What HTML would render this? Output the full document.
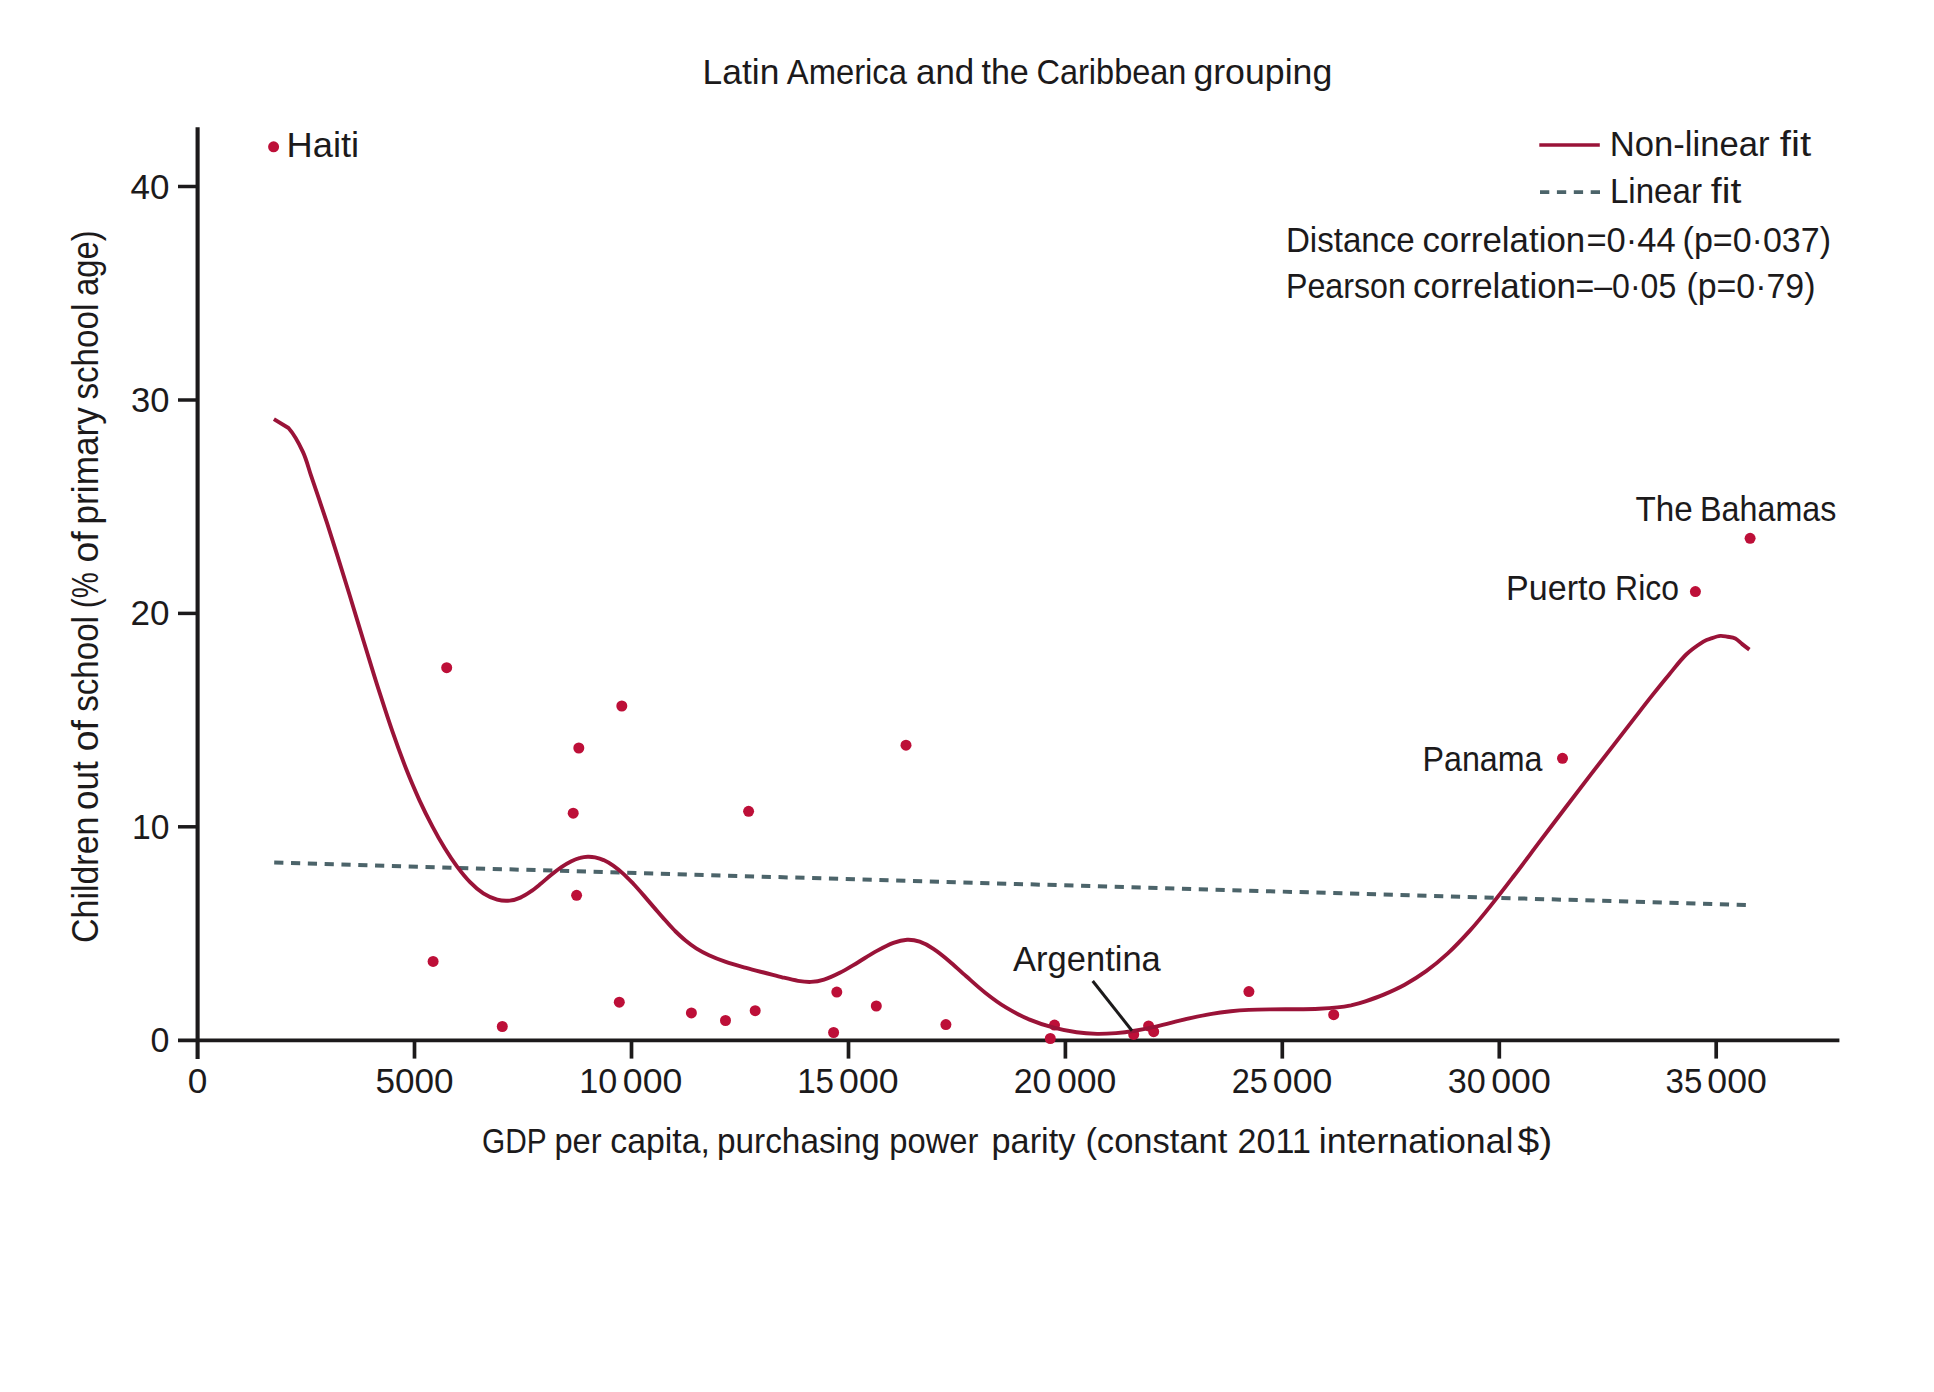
<!DOCTYPE html>
<html lang="en"><head><meta charset="utf-8">
<title>Latin America and the Caribbean grouping</title>
<style>
html,body{margin:0;padding:0;background:#fff;}
body{width:1934px;height:1392px;overflow:hidden;}
svg{display:block;}
text{font-family:"Liberation Sans", sans-serif;fill:#1c1a1b;}
</style></head><body>
<svg width="1934" height="1392" viewBox="0 0 1934 1392">
<rect x="0" y="0" width="1934" height="1392" fill="#ffffff"/>
<g stroke="#1c1a1b" fill="none" stroke-linecap="butt">
<line x1="197.6" y1="127.2" x2="197.6" y2="1059" stroke-width="4.1"/>
<line x1="178" y1="1040.3" x2="1839.4" y2="1040.3" stroke-width="3.8"/>
<line x1="178" y1="826.8" x2="197.6" y2="826.8" stroke-width="3.5"/>
<line x1="178" y1="613.4" x2="197.6" y2="613.4" stroke-width="3.5"/>
<line x1="178" y1="400.0" x2="197.6" y2="400.0" stroke-width="3.5"/>
<line x1="178" y1="186.5" x2="197.6" y2="186.5" stroke-width="3.5"/>
<line x1="414.5" y1="1040.3" x2="414.5" y2="1058.6" stroke-width="3.7"/>
<line x1="631.5" y1="1040.3" x2="631.5" y2="1058.6" stroke-width="3.7"/>
<line x1="848.5" y1="1040.3" x2="848.5" y2="1058.6" stroke-width="3.7"/>
<line x1="1065.4" y1="1040.3" x2="1065.4" y2="1058.6" stroke-width="3.7"/>
<line x1="1282.3" y1="1040.3" x2="1282.3" y2="1058.6" stroke-width="3.7"/>
<line x1="1499.3" y1="1040.3" x2="1499.3" y2="1058.6" stroke-width="3.7"/>
<line x1="1716.2" y1="1040.3" x2="1716.2" y2="1058.6" stroke-width="3.7"/>
</g>
<line x1="274.2" y1="862.6" x2="1747.6" y2="905" stroke="#4c646a" stroke-width="4" stroke-dasharray="9.2 7.617" fill="none"/>
<g fill="#bd0f38">
<circle cx="273.6" cy="146.8" r="5.5"/>
<circle cx="446.7" cy="667.7" r="5.5"/>
<circle cx="621.8" cy="706.0" r="5.5"/>
<circle cx="578.8" cy="748.0" r="5.5"/>
<circle cx="906.0" cy="745.2" r="5.5"/>
<circle cx="573.2" cy="813.2" r="5.5"/>
<circle cx="748.6" cy="811.3" r="5.5"/>
<circle cx="576.6" cy="895.3" r="5.5"/>
<circle cx="433.1" cy="961.4" r="5.5"/>
<circle cx="619.3" cy="1002.2" r="5.5"/>
<circle cx="502.3" cy="1026.5" r="5.5"/>
<circle cx="691.4" cy="1012.9" r="5.5"/>
<circle cx="725.5" cy="1020.5" r="5.5"/>
<circle cx="755.2" cy="1010.7" r="5.5"/>
<circle cx="836.8" cy="992.1" r="5.5"/>
<circle cx="833.6" cy="1032.5" r="5.5"/>
<circle cx="876.3" cy="1006.0" r="5.5"/>
<circle cx="945.9" cy="1024.6" r="5.5"/>
<circle cx="1054.5" cy="1025.1" r="5.5"/>
<circle cx="1050.3" cy="1038.5" r="5.5"/>
<circle cx="1133.7" cy="1034.4" r="5.5"/>
<circle cx="1148.6" cy="1025.9" r="5.5"/>
<circle cx="1153.7" cy="1031.7" r="5.5"/>
<circle cx="1248.9" cy="991.6" r="5.5"/>
<circle cx="1333.7" cy="1014.7" r="5.5"/>
<circle cx="1562.5" cy="758.3" r="5.5"/>
<circle cx="1695.4" cy="591.6" r="5.5"/>
<circle cx="1750.1" cy="538.3" r="5.5"/>
</g>
<path d="M273.9 419.2 L288.5 428.0 C293.3 433.4 299.2 443.9 302.9 451.8 C306.6 459.7 308.3 467.4 310.9 475.2 C313.6 483.0 316.2 490.6 318.9 498.6 C321.5 506.5 324.0 513.8 327.0 522.9 C329.9 531.9 332.9 541.3 336.6 553.1 C340.4 565.0 344.7 579.2 349.3 594.0 C353.8 608.7 358.9 625.9 363.8 641.7 C368.7 657.5 373.6 673.9 378.4 688.9 C383.2 703.8 387.8 718.3 392.5 731.7 C397.1 745.0 401.7 757.5 406.2 769.0 C410.7 780.5 415.3 791.0 419.6 800.6 C424.0 810.2 428.3 818.7 432.5 826.6 C436.7 834.6 440.7 841.6 444.8 848.3 C448.9 855.0 453.0 861.1 457.1 866.7 C461.3 872.3 465.4 877.5 469.8 881.9 C474.1 886.4 478.7 890.3 483.3 893.3 C487.9 896.2 492.8 898.4 497.2 899.6 C501.6 900.8 505.8 901.0 509.7 900.6 C513.6 900.3 517.0 899.1 520.4 897.6 C523.9 896.1 527.1 894.0 530.5 891.7 C533.8 889.4 537.2 886.6 540.7 883.8 C544.1 881.0 547.6 877.8 551.0 875.0 C554.5 872.2 558.0 869.4 561.4 867.1 C564.8 864.8 568.2 862.8 571.4 861.2 C574.5 859.7 577.5 858.6 580.2 857.9 C582.9 857.1 585.2 856.8 587.7 856.7 C590.2 856.6 592.5 856.8 595.1 857.4 C597.7 858.0 600.6 858.8 603.6 860.1 C606.6 861.5 609.9 863.3 613.2 865.6 C616.5 867.9 620.0 870.8 623.4 873.9 C626.9 877.1 630.3 880.7 633.8 884.3 C637.2 888.0 640.7 892.0 644.1 895.9 C647.5 899.9 651.0 904.0 654.4 907.9 C657.9 911.9 661.3 916.0 664.8 919.8 C668.2 923.7 671.7 927.5 675.1 931.0 C678.6 934.4 681.9 937.6 685.5 940.5 C689.0 943.4 692.3 945.9 696.2 948.3 C700.2 950.8 704.2 953.0 709.0 955.2 C713.8 957.4 719.2 959.6 725.1 961.6 C730.9 963.6 737.5 965.5 743.9 967.3 C750.4 969.1 757.3 970.8 763.7 972.5 C770.1 974.1 776.5 975.9 782.2 977.3 C788.0 978.7 793.2 980.0 798.0 980.8 C802.8 981.6 806.7 982.1 811.0 981.9 C815.3 981.7 819.2 981.1 824.0 979.6 C828.8 978.1 834.1 975.7 839.8 972.8 C845.4 969.9 852.0 965.8 858.2 962.2 C864.3 958.5 871.0 954.1 876.9 950.9 C882.8 947.7 888.4 944.8 893.4 942.9 C898.5 941.0 902.8 940.0 907.1 939.8 C911.5 939.6 915.3 940.2 919.7 941.7 C924.1 943.2 928.6 945.6 933.4 948.8 C938.3 952.0 943.6 956.3 949.0 960.9 C954.5 965.5 960.2 971.1 966.2 976.3 C972.2 981.6 978.5 987.5 985.2 992.7 C991.8 997.9 998.9 1003.2 1006.3 1007.7 C1013.7 1012.2 1021.7 1016.3 1029.6 1019.6 C1037.5 1022.9 1045.9 1025.6 1053.7 1027.7 C1061.5 1029.8 1069.3 1031.3 1076.6 1032.3 C1083.8 1033.3 1090.5 1033.7 1097.1 1033.9 C1103.7 1034.0 1109.9 1033.6 1116.1 1033.1 C1122.4 1032.6 1128.5 1031.8 1134.7 1030.8 C1140.8 1029.8 1146.9 1028.6 1153.1 1027.2 C1159.3 1025.8 1165.4 1024.2 1171.8 1022.6 C1178.2 1021.1 1184.9 1019.3 1191.5 1017.8 C1198.2 1016.4 1205.2 1015.0 1211.7 1013.9 C1218.2 1012.8 1224.6 1012.0 1230.8 1011.3 C1237.0 1010.6 1242.4 1010.2 1248.9 1009.9 C1255.3 1009.6 1261.9 1009.5 1269.6 1009.4 C1277.2 1009.3 1286.4 1009.3 1294.7 1009.2 C1303.0 1009.1 1312.1 1009.0 1319.2 1008.7 C1326.4 1008.4 1332.2 1008.0 1337.5 1007.4 C1342.8 1006.9 1346.3 1006.3 1351.0 1005.3 C1355.6 1004.2 1360.0 1003.1 1365.4 1001.3 C1370.9 999.5 1377.2 997.4 1383.7 994.6 C1390.3 991.8 1397.6 988.6 1404.7 984.7 C1411.8 980.8 1419.0 976.4 1426.2 971.2 C1433.4 966.0 1440.6 960.0 1447.8 953.4 C1454.9 946.8 1462.0 939.3 1469.2 931.4 C1476.4 923.4 1483.4 914.9 1490.8 905.6 C1498.3 896.4 1505.9 886.4 1514.0 875.8 C1522.1 865.3 1530.7 853.6 1539.3 842.2 C1547.9 830.8 1556.8 818.9 1565.4 807.7 C1574.0 796.4 1582.6 785.2 1590.7 774.6 C1598.8 764.1 1606.8 753.9 1614.0 744.6 C1621.3 735.2 1627.8 726.7 1634.1 718.6 C1640.4 710.5 1646.0 703.2 1651.8 695.9 C1657.6 688.6 1663.2 681.6 1669.0 674.7 C1674.7 667.8 1680.5 660.0 1686.2 654.5 C1691.9 649.0 1699.1 644.3 1703.4 641.6 C1707.7 638.9 1709.3 639.1 1712.1 638.1 C1714.9 637.1 1717.7 636.1 1720.3 635.9 C1722.9 635.7 1725.1 636.4 1727.6 636.8 C1730.1 637.2 1732.9 637.3 1735.3 638.5 C1737.7 639.7 1739.8 642.2 1742.2 644.1 C1744.6 646.0 1748.2 648.7 1749.4 649.6" stroke="#9a1338" stroke-width="3.9" fill="none" stroke-linejoin="round" stroke-linecap="butt"/>
<line x1="1092.7" y1="981" x2="1132" y2="1030.7" stroke="#1c1a1b" stroke-width="3"/>
<line x1="1539.3" y1="145" x2="1599.8" y2="145" stroke="#9a1338" stroke-width="3.3"/>
<line x1="1540" y1="192.1" x2="1600" y2="192.1" stroke="#4c646a" stroke-width="3.8" stroke-dasharray="9.3 7.6"/>
<text font-size="35.0"><tspan x="702.63" y="84.0" textLength="76.75" lengthAdjust="spacingAndGlyphs">Latin</tspan> <tspan x="786.80" y="84.0" textLength="120.19" lengthAdjust="spacingAndGlyphs">America</tspan> <tspan x="916.01" y="84.0" textLength="58.25" lengthAdjust="spacingAndGlyphs">and</tspan> <tspan x="981.40" y="84.0" textLength="47.48" lengthAdjust="spacingAndGlyphs">the</tspan> <tspan x="1036.48" y="84.0" textLength="149.95" lengthAdjust="spacingAndGlyphs">Caribbean</tspan> <tspan x="1193.38" y="84.0" textLength="138.92" lengthAdjust="spacingAndGlyphs">grouping</tspan></text>
<text font-size="35.0"><tspan x="286.56" y="157.2" textLength="72.63" lengthAdjust="spacingAndGlyphs">Haiti</tspan></text>
<text font-size="35.0"><tspan x="1609.80" y="155.6" textLength="159.67" lengthAdjust="spacingAndGlyphs">Non-linear</tspan> <tspan x="1779.80" y="155.6" textLength="31.36" lengthAdjust="spacingAndGlyphs">fit</tspan></text>
<text font-size="35.0"><tspan x="1609.91" y="203.0" textLength="92.05" lengthAdjust="spacingAndGlyphs">Linear</tspan> <tspan x="1710.80" y="203.0" textLength="30.47" lengthAdjust="spacingAndGlyphs">fit</tspan></text>
<text font-size="35.0"><tspan x="1285.91" y="252.2" textLength="128.83" lengthAdjust="spacingAndGlyphs">Distance</tspan> <tspan x="1422.41" y="252.2" textLength="162.85" lengthAdjust="spacingAndGlyphs">correlation</tspan> <tspan x="1586.38" y="252.2" textLength="89.38" lengthAdjust="spacingAndGlyphs">=0·44</tspan> <tspan x="1682.61" y="252.2" textLength="148.35" lengthAdjust="spacingAndGlyphs">(p=0·037)</tspan></text>
<text font-size="35.0"><tspan x="1285.98" y="298.3" textLength="119.92" lengthAdjust="spacingAndGlyphs">Pearson</tspan> <tspan x="1413.11" y="298.3" textLength="162.85" lengthAdjust="spacingAndGlyphs">correlation</tspan> <tspan x="1575.60" y="298.3" textLength="100.60" lengthAdjust="spacingAndGlyphs">=–0·05</tspan> <tspan x="1686.41" y="298.3" textLength="129.04" lengthAdjust="spacingAndGlyphs">(p=0·79)</tspan></text>
<text font-size="35.0"><tspan x="1635.48" y="521.1" textLength="57.27" lengthAdjust="spacingAndGlyphs">The</tspan> <tspan x="1700.08" y="521.1" textLength="136.23" lengthAdjust="spacingAndGlyphs">Bahamas</tspan></text>
<text font-size="35.0"><tspan x="1506.04" y="599.6" textLength="100.34" lengthAdjust="spacingAndGlyphs">Puerto</tspan> <tspan x="1615.11" y="599.6" textLength="63.78" lengthAdjust="spacingAndGlyphs">Rico</tspan></text>
<text font-size="35.0"><tspan x="1422.48" y="770.9" textLength="120.01" lengthAdjust="spacingAndGlyphs">Panama</tspan></text>
<text font-size="35.0"><tspan x="1013.10" y="970.7" textLength="147.68" lengthAdjust="spacingAndGlyphs">Argentina</tspan></text>
<text font-size="35.0"><tspan x="482.01" y="1152.8" textLength="64.13" lengthAdjust="spacingAndGlyphs">GDP</tspan> <tspan x="554.46" y="1152.8" textLength="47.20" lengthAdjust="spacingAndGlyphs">per</tspan> <tspan x="610.24" y="1152.8" textLength="99.68" lengthAdjust="spacingAndGlyphs">capita,</tspan> <tspan x="716.91" y="1152.8" textLength="163.26" lengthAdjust="spacingAndGlyphs">purchasing</tspan> <tspan x="889.26" y="1152.8" textLength="89.10" lengthAdjust="spacingAndGlyphs">power</tspan> <tspan x="991.56" y="1152.8" textLength="83.84" lengthAdjust="spacingAndGlyphs">parity</tspan> <tspan x="1085.38" y="1152.8" textLength="142.00" lengthAdjust="spacingAndGlyphs">(constant</tspan> <tspan x="1237.60" y="1152.8" textLength="73.28" lengthAdjust="spacingAndGlyphs">2011</tspan> <tspan x="1318.87" y="1152.8" textLength="194.59" lengthAdjust="spacingAndGlyphs">international</tspan> <tspan x="1517.60" y="1152.8" textLength="34.72" lengthAdjust="spacingAndGlyphs">$)</tspan></text>
<text font-size="35.0"><tspan x="187.70" y="1093.0" textLength="19.58" lengthAdjust="spacingAndGlyphs">0</tspan></text>
<text font-size="35.0"><tspan x="375.40" y="1093.0" textLength="78.07" lengthAdjust="spacingAndGlyphs">5000</tspan></text>
<text font-size="35.0"><tspan x="579.37" y="1093.0" textLength="37.98" lengthAdjust="spacingAndGlyphs">10</tspan> <tspan x="622.89" y="1093.0" textLength="59.50" lengthAdjust="spacingAndGlyphs">000</tspan></text>
<text font-size="35.0"><tspan x="797.13" y="1093.0" textLength="36.92" lengthAdjust="spacingAndGlyphs">15</tspan> <tspan x="839.09" y="1093.0" textLength="59.50" lengthAdjust="spacingAndGlyphs">000</tspan></text>
<text font-size="35.0"><tspan x="1013.66" y="1093.0" textLength="37.74" lengthAdjust="spacingAndGlyphs">20</tspan> <tspan x="1056.94" y="1093.0" textLength="59.50" lengthAdjust="spacingAndGlyphs">000</tspan></text>
<text font-size="35.0"><tspan x="1231.68" y="1093.0" textLength="36.14" lengthAdjust="spacingAndGlyphs">25</tspan> <tspan x="1272.89" y="1093.0" textLength="59.50" lengthAdjust="spacingAndGlyphs">000</tspan></text>
<text font-size="35.0"><tspan x="1447.68" y="1093.0" textLength="38.02" lengthAdjust="spacingAndGlyphs">30</tspan> <tspan x="1491.24" y="1093.0" textLength="59.50" lengthAdjust="spacingAndGlyphs">000</tspan></text>
<text font-size="35.0"><tspan x="1665.52" y="1093.0" textLength="36.77" lengthAdjust="spacingAndGlyphs">35</tspan> <tspan x="1707.34" y="1093.0" textLength="59.50" lengthAdjust="spacingAndGlyphs">000</tspan></text>
<text font-size="35.0"><tspan x="150.54" y="1052.3" textLength="18.91" lengthAdjust="spacingAndGlyphs">0</tspan></text>
<text font-size="35.0"><tspan x="132.00" y="838.8" textLength="37.44" lengthAdjust="spacingAndGlyphs">10</tspan></text>
<text font-size="35.0"><tspan x="130.46" y="625.4" textLength="39.02" lengthAdjust="spacingAndGlyphs">20</tspan></text>
<text font-size="35.0"><tspan x="131.02" y="412.0" textLength="38.44" lengthAdjust="spacingAndGlyphs">30</tspan></text>
<text font-size="35.0"><tspan x="130.55" y="198.5" textLength="38.92" lengthAdjust="spacingAndGlyphs">40</tspan></text>
<g transform="translate(97.7 941.4) rotate(-90)"><text font-size="36.5"><tspan x="-1.59" y="0.0" textLength="126.40" lengthAdjust="spacingAndGlyphs">Children</tspan> <tspan x="131.50" y="0.0" textLength="48.78" lengthAdjust="spacingAndGlyphs">out</tspan> <tspan x="190.24" y="0.0" textLength="31.04" lengthAdjust="spacingAndGlyphs">of</tspan> <tspan x="229.58" y="0.0" textLength="95.80" lengthAdjust="spacingAndGlyphs">school</tspan> <tspan x="333.43" y="0.0" textLength="35.85" lengthAdjust="spacingAndGlyphs">(%</tspan> <tspan x="378.83" y="0.0" textLength="31.14" lengthAdjust="spacingAndGlyphs">of</tspan> <tspan x="416.90" y="0.0" textLength="117.40" lengthAdjust="spacingAndGlyphs">primary</tspan> <tspan x="541.88" y="0.0" textLength="95.80" lengthAdjust="spacingAndGlyphs">school</tspan> <tspan x="645.48" y="0.0" textLength="65.52" lengthAdjust="spacingAndGlyphs">age)</tspan></text></g>
</svg>
</body></html>
